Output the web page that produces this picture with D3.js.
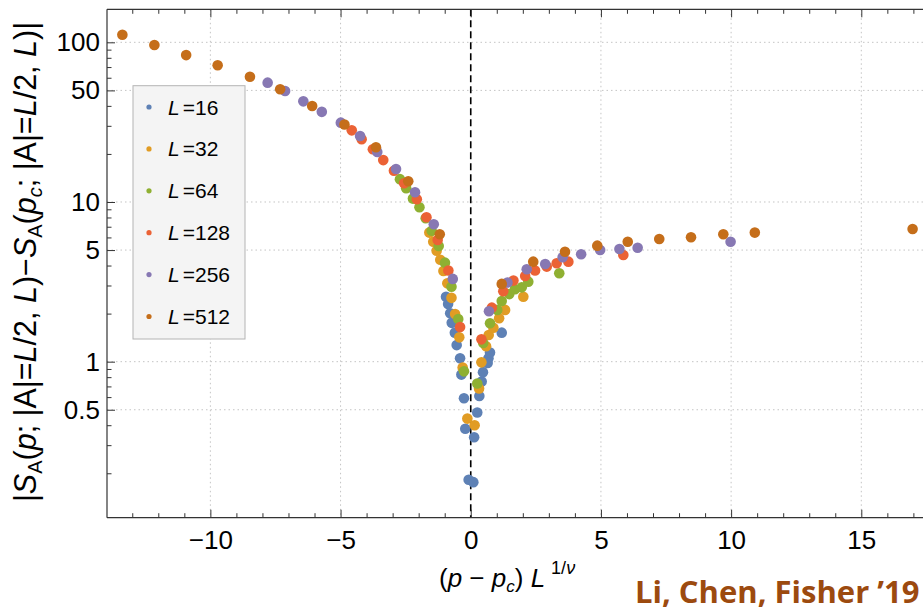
<!DOCTYPE html>
<html><head><meta charset="utf-8">
<script src="https://cdn.jsdelivr.net/npm/d3@7"></script>
<style>body{margin:0;background:#fff} svg{display:block}</style>
</head><body>
<svg id="chart" width="923" height="608"></svg>
<script>
const categories = ["16","32","64","128","256","512"];
const seriesColors = ["#5e81b5","#e19c24","#8fb032","#eb6235","#8778b3","#c56e1a"];
const L16 = [[-0.95,2.55],[-0.87,2.30],[-0.79,2.01],[-0.73,1.75],[-0.61,1.52],[-0.54,1.27],[-0.41,1.05],[-0.36,0.83],[-0.26,0.59],[-0.21,0.38],[-0.08,0.182],[0.10,0.176],[0.13,0.336],[0.25,0.48],[0.33,0.61],[0.42,0.75],[0.47,0.86],[0.65,0.98],[0.68,1.05],[0.74,1.14],[1.19,1.52]];
const L32 = [[-1.59,6.43],[-1.44,5.64],[-1.31,4.95],[-1.17,4.35],[-1.05,3.70],[-0.90,3.10],[-0.74,2.51],[-0.60,1.99],[-0.44,1.42],[-0.31,0.92],[-0.13,0.44],[0.15,0.40],[0.32,0.68],[0.41,0.99],[0.59,1.25],[0.69,1.47],[0.87,1.63],[1.09,1.87],[1.32,2.11],[2.02,2.55]];
const L64 = [[-2.72,13.9],[-2.48,12.2],[-2.22,10.5],[-1.97,9.27],[-1.73,7.91],[-1.50,6.6],[-1.23,5.30],[-0.99,4.17],[-0.74,2.95],[-0.48,1.85],[-0.26,0.87],[0.25,0.73],[0.48,1.31],[0.74,1.74],[1.02,2.11],[1.19,2.40],[1.48,2.65],[1.70,2.84],[1.96,2.92],[2.21,3.17],[3.40,3.58]];
const L128 = [[-4.57,28.1],[-4.19,24.7],[-3.76,21.4],[-3.36,18.3],[-2.95,15.7],[-2.56,13.1],[-2.07,10.4],[-1.70,8.02],[-1.27,5.78],[-0.86,3.72],[-0.41,1.65],[0.41,1.38],[0.81,2.18],[1.25,2.76],[1.64,3.22],[2.09,3.44],[2.47,3.72],[2.92,3.94],[3.30,4.13],[3.75,4.23],[5.86,4.66]];
const L256 = [[-7.80,55.9],[-7.13,49.6],[-6.43,42.7],[-5.72,36.7],[-4.99,31.4],[-4.25,25.9],[-3.59,20.6],[-2.87,16.1],[-2.14,11.5],[-1.42,7.25],[-0.69,3.30],[0.70,2.07],[1.41,3.13],[2.15,3.79],[2.86,4.09],[3.53,4.51],[4.24,4.71],[4.97,5.00],[5.71,5.08],[6.41,5.17],[9.98,5.64]];
const L512 = [[-13.38,111.6],[-12.15,96.2],[-10.93,83.2],[-9.72,71.8],[-8.48,60.9],[-7.32,50.8],[-6.09,39.9],[-4.85,30.6],[-3.64,22.0],[-2.40,13.5],[-1.19,6.28],[1.19,3.07],[2.40,4.23],[3.62,4.88],[4.86,5.33],[6.03,5.64],[7.24,5.87],[8.46,6.01],[9.70,6.28],[10.91,6.43],[16.97,6.78]];
const seriesData = [L16, L32, L64, L128, L256, L512];
const xTickValues = [-10,-5,0,5,10,15];
const yTickValues = [0.5,1,5,10,50,100];
const yTickLabels = ["0.5","1","5","10","50","100"];

(function(){
const FONT = "'Liberation Sans', Arial, Helvetica, sans-serif";
const svg = d3.select("#chart");
const pL = 107, pR = 929, pT = 9.3, pB = 517.7;
const x = d3.scaleLinear().domain([-13.97, 17.6]).range([pL, pR]);
const y = d3.scaleLog().domain([0.1054, 161]).range([pB, pT]);

svg.append("rect").attr("width",923).attr("height",608).attr("fill","#fff");

// grid
const grid = svg.append("g").attr("stroke","#c4c4c4").attr("stroke-width",1).attr("stroke-dasharray","1.5,3");
xTickValues.filter(v => v !== 0).forEach(v => {
  grid.append("line").attr("x1",x(v)).attr("x2",x(v)).attr("y1",pT).attr("y2",pB);
});
yTickValues.forEach(v => {
  grid.append("line").attr("x1",pL).attr("x2",pR).attr("y1",y(v)).attr("y2",y(v));
});

// dashed zero line
svg.append("line").attr("x1",x(0)).attr("x2",x(0)).attr("y1",pT).attr("y2",pB)
  .attr("stroke","#000").attr("stroke-width",1.6).attr("stroke-dasharray","7,4");

// points
seriesData.forEach((data, i) => {
  svg.append("g").selectAll("circle").data(data).join("circle")
    .attr("cx", d => x(d[0])).attr("cy", d => y(d[1])).attr("r", 5.3)
    .attr("fill", seriesColors[i]);
});

// axes
const minorX = d3.range(-13, 18).filter(v => !xTickValues.includes(v));
const minorY = y.ticks().filter(v => !yTickValues.some(t => Math.abs(t - v) < 1e-9));
function styleAxis(g) {
  g.select(".domain").remove();
  g.selectAll("line").attr("stroke","#333").attr("stroke-width",1);
  g.selectAll("text").attr("fill","#000").style("font-family",FONT).style("font-size","26px");
}
svg.append("g").attr("transform",`translate(0,${pB})`)
  .call(d3.axisBottom(x).tickValues(xTickValues).tickSizeInner(-8).tickSizeOuter(0).tickPadding(12.5)
    .tickFormat(d => d < 0 ? "\u2212" + Math.abs(d) : String(d))).call(styleAxis);
svg.append("g").attr("transform",`translate(0,${pB})`)
  .call(d3.axisBottom(x).tickValues(minorX).tickSizeInner(-4.5).tickSizeOuter(0).tickFormat("")).call(styleAxis);
svg.append("g").attr("transform",`translate(0,${pT})`)
  .call(d3.axisTop(x).tickValues(xTickValues).tickSizeInner(-8).tickSizeOuter(0).tickFormat("")).call(styleAxis);
svg.append("g").attr("transform",`translate(0,${pT})`)
  .call(d3.axisTop(x).tickValues(minorX).tickSizeInner(-4.5).tickSizeOuter(0).tickFormat("")).call(styleAxis);
svg.append("g").attr("transform",`translate(${pL},0)`)
  .call(d3.axisLeft(y).tickValues(yTickValues).tickSizeInner(-8).tickSizeOuter(0).tickPadding(7)
    .tickFormat((d,i) => yTickLabels[i])).call(styleAxis);
svg.append("g").attr("transform",`translate(${pL},0)`)
  .call(d3.axisLeft(y).tickValues(minorY).tickSizeInner(-4.5).tickSizeOuter(0).tickFormat("")).call(styleAxis);

// frame
const frame = svg.append("g").attr("stroke","#333").attr("stroke-width",1.2).attr("fill","none");
frame.append("line").attr("x1",pL).attr("x2",pR).attr("y1",pT).attr("y2",pT);
frame.append("line").attr("x1",pL).attr("x2",pR).attr("y1",pB).attr("y2",pB);
frame.append("line").attr("x1",pL).attr("x2",pL).attr("y1",pT).attr("y2",pB);
frame.append("line").attr("x1",pR).attr("x2",pR).attr("y1",pT).attr("y2",pB);

// legend
const lg = svg.append("g");
lg.append("rect").attr("x",133).attr("y",85.7).attr("width",112).attr("height",253.3)
  .attr("fill","#f4f4f4").attr("stroke","#b4b4b4").attr("stroke-width",1);
categories.forEach((c, i) => {
  const cy = 107 + i * 41.9;
  lg.append("circle").attr("cx",149).attr("cy",cy).attr("r",2.6).attr("fill",seriesColors[i]);
  const t = lg.append("text").attr("x",168).attr("y",cy + 7.5)
    .style("font-family",FONT).style("font-size","21px").attr("fill","#000");
  t.append("tspan").style("font-style","italic").text("L");
  t.append("tspan").attr("dx",3).text("=" + c);
});

// rich text helper
function rich(textSel, parts) {
  parts.forEach(p => {
    const ts = textSel.append("tspan").text(p.t);
    if (p.i) ts.style("font-style","italic");
    if (p.sub) ts.style("font-size", p.sub + "px");
    if (p.dy) ts.attr("dy", p.dy);
    if (p.dx) ts.attr("dx", p.dx);
  });
}
const yt = svg.append("text").attr("transform","translate(36,262) rotate(-90)")
  .attr("text-anchor","middle").style("font-family",FONT).style("font-size","30.5px").attr("fill","#000");
rich(yt, [
  {t:"|"},{t:"S",i:1},{t:"A",sub:20,dy:6},{t:"(",dy:-6},{t:"p",i:1},{t:"; |A|="},{t:"L",i:1},{t:"/2, "},{t:"L",i:1},{t:")\u2212"},
  {t:"S",i:1},{t:"A",sub:20,dy:6},{t:"(",dy:-6},{t:"p",i:1},{t:"c",i:1,sub:20,dy:6},{t:"; |A|=",dy:-6},{t:"L",i:1},{t:"/2, "},{t:"L",i:1},{t:")|"}
]);

const xt = svg.append("text").attr("x",439).attr("y",587)
  .style("font-family",FONT).style("font-size","26px").attr("fill","#000");
rich(xt, [
  {t:"("},{t:"p",i:1},{t:" \u2212 "},{t:"p",i:1},{t:"c",i:1,sub:17,dy:5},{t:") ",dy:-5},{t:"L",i:1},
  {t:"1/",sub:18,dy:-13,dx:6},{t:"\u03bd",i:1,sub:18}
]);

svg.append("text").attr("x",635).attr("y",603)
  .style("font-family","'Open Sans', sans-serif").style("font-weight","bold").style("font-size","31px")
  .attr("fill","#9c4a0f").text("Li, Chen, Fisher \u201919");
})();
</script>
</body></html>
